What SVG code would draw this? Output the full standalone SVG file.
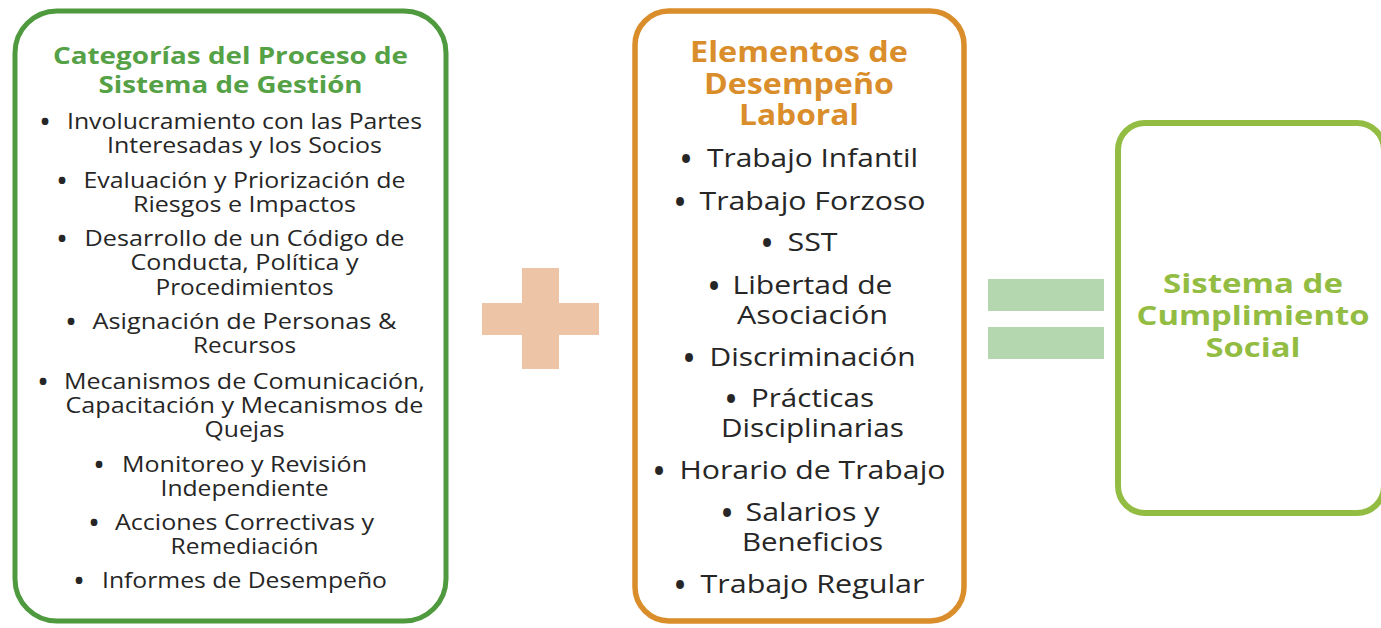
<svg xmlns="http://www.w3.org/2000/svg" width="1381" height="628" viewBox="0 0 1381 628">
<style>
  .box { fill: #FFFFFF; }
  .t { font-family: "Open Sans", "Noto Sans", "Liberation Sans", sans-serif; text-anchor: middle; }
  .title { font-weight: 700; }
  .body { fill: #262626; font-size: 21px; }
  .mbody { fill: #262626; font-size: 25px; }
  .bul { font-family: "Open Sans", "Noto Sans", "Liberation Sans", sans-serif; text-anchor: middle; fill: #262626; font-weight: 700; }
</style>
<rect width="1381" height="628" fill="#FFFFFF"/>

<g id="node-categorias">
  <rect class="box" x="15" y="11" width="431" height="610" rx="42" ry="42" stroke="#4F9A3F" stroke-width="5"/>
  <g class="t title" fill="#55A146" font-size="22.5">
    <text x="230.5" y="64" textLength="355" lengthAdjust="spacingAndGlyphs">Categorías del Proceso de</text>
    <text x="230.5" y="93" textLength="264" lengthAdjust="spacingAndGlyphs">Sistema de Gestión</text>
  </g>
  <g class="t body">
    <text x="244.5" y="128.5" textLength="355" lengthAdjust="spacingAndGlyphs">Involucramiento con las Partes</text>
    <text x="244.5" y="153" textLength="275" lengthAdjust="spacingAndGlyphs">Interesadas y los Socios</text>
    <text x="244.5" y="187.5" textLength="322" lengthAdjust="spacingAndGlyphs">Evaluación y Priorización de</text>
    <text x="244.5" y="211.5" textLength="223" lengthAdjust="spacingAndGlyphs">Riesgos e Impactos</text>
    <text x="244.5" y="245.5" textLength="320" lengthAdjust="spacingAndGlyphs">Desarrollo de un Código de</text>
    <text x="244.5" y="270" textLength="228" lengthAdjust="spacingAndGlyphs">Conducta, Política y</text>
    <text x="244.5" y="294.5" textLength="178" lengthAdjust="spacingAndGlyphs">Procedimientos</text>
    <text x="244.5" y="328.5" textLength="304" lengthAdjust="spacingAndGlyphs">Asignación de Personas &amp;</text>
    <text x="244.5" y="352.5" textLength="103" lengthAdjust="spacingAndGlyphs">Recursos</text>
    <text x="244.5" y="388.5" textLength="361" lengthAdjust="spacingAndGlyphs">Mecanismos de Comunicación,</text>
    <text x="244.5" y="412.5" textLength="358" lengthAdjust="spacingAndGlyphs">Capacitación y Mecanismos de</text>
    <text x="244.5" y="436.5" textLength="80" lengthAdjust="spacingAndGlyphs">Quejas</text>
    <text x="244.5" y="471.5" textLength="245" lengthAdjust="spacingAndGlyphs">Monitoreo y Revisión</text>
    <text x="244.5" y="495.5" textLength="168" lengthAdjust="spacingAndGlyphs">Independiente</text>
    <text x="244.5" y="529.5" textLength="259" lengthAdjust="spacingAndGlyphs">Acciones Correctivas y</text>
    <text x="244.5" y="554" textLength="148" lengthAdjust="spacingAndGlyphs">Remediación</text>
    <text x="244.5" y="587.5" textLength="285" lengthAdjust="spacingAndGlyphs">Informes de Desempeño</text>
  </g>
  <g class="bul" font-size="24">
    <text x="45" y="130">•</text>
    <text x="62" y="189">•</text>
    <text x="62" y="247">•</text>
    <text x="71" y="330">•</text>
    <text x="43" y="390">•</text>
    <text x="99" y="473">•</text>
    <text x="94" y="531">•</text>
    <text x="79" y="589">•</text>
  </g>
</g>

<g id="node-elementos">
  <rect class="box" x="635" y="11" width="329" height="610" rx="34" ry="34" stroke="#DA8E2B" stroke-width="5.5"/>
  <g class="t title" fill="#DA8E2B" font-size="28">
    <text x="799" y="62" textLength="218" lengthAdjust="spacingAndGlyphs">Elementos de</text>
    <text x="799" y="93.5" textLength="190" lengthAdjust="spacingAndGlyphs">Desempeño</text>
    <text x="799" y="125" textLength="120" lengthAdjust="spacingAndGlyphs">Laboral</text>
  </g>
  <g class="t mbody">
    <text x="812.5" y="167" textLength="211" lengthAdjust="spacingAndGlyphs">Trabajo Infantil</text>
    <text x="812.5" y="210" textLength="226" lengthAdjust="spacingAndGlyphs">Trabajo Forzoso</text>
    <text x="812.5" y="251" textLength="50" lengthAdjust="spacingAndGlyphs">SST</text>
    <text x="812.5" y="294" textLength="160" lengthAdjust="spacingAndGlyphs">Libertad de</text>
    <text x="812.5" y="324" textLength="151" lengthAdjust="spacingAndGlyphs">Asociación</text>
    <text x="812.5" y="366" textLength="206" lengthAdjust="spacingAndGlyphs">Discriminación</text>
    <text x="812.5" y="407" textLength="123" lengthAdjust="spacingAndGlyphs">Prácticas</text>
    <text x="812.5" y="437" textLength="183" lengthAdjust="spacingAndGlyphs">Disciplinarias</text>
    <text x="812.5" y="479" textLength="266" lengthAdjust="spacingAndGlyphs">Horario de Trabajo</text>
    <text x="812.5" y="521" textLength="134" lengthAdjust="spacingAndGlyphs">Salarios y</text>
    <text x="812.5" y="551" textLength="141" lengthAdjust="spacingAndGlyphs">Beneficios</text>
    <text x="812.5" y="593" textLength="224" lengthAdjust="spacingAndGlyphs">Trabajo Regular</text>
  </g>
  <g class="bul" font-size="28">
    <text x="686" y="169">•</text>
    <text x="680" y="212">•</text>
    <text x="767" y="253">•</text>
    <text x="714" y="296">•</text>
    <text x="689" y="368">•</text>
    <text x="731" y="409">•</text>
    <text x="659" y="481">•</text>
    <text x="727" y="523">•</text>
    <text x="680" y="595">•</text>
  </g>
</g>

<g id="node-sistema">
  <rect class="box" x="1118" y="123" width="266" height="390" rx="27" ry="27" stroke="#93BC43" stroke-width="6"/>
  <g class="t title" fill="#93BC43" font-size="27">
    <text x="1253" y="293" textLength="180" lengthAdjust="spacingAndGlyphs">Sistema de</text>
    <text x="1253" y="325" textLength="233" lengthAdjust="spacingAndGlyphs">Cumplimiento</text>
    <text x="1253" y="357" textLength="95" lengthAdjust="spacingAndGlyphs">Social</text>
  </g>
</g>

<g id="connectors">
  <g id="op-plus" fill="#EDC4A6">
    <rect x="522" y="268" width="37" height="101"/>
    <rect x="482" y="303" width="117" height="32"/>
  </g>
  <g id="op-equals" fill="#B5D7B0">
    <rect x="988" y="279" width="116" height="32"/>
    <rect x="988" y="327" width="116" height="32"/>
  </g>
</g>
</svg>
